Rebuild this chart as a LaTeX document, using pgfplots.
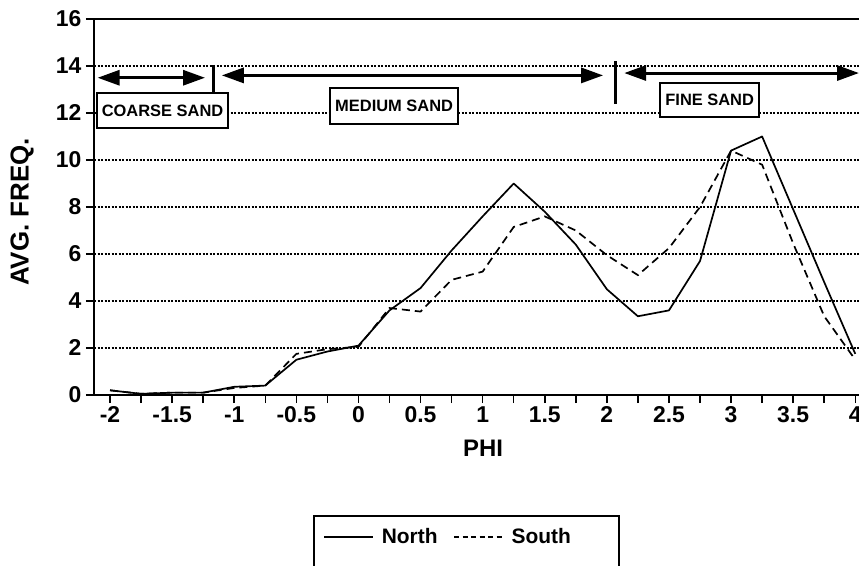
\documentclass[border=0pt]{standalone}
\usepackage{pgfplots}
\pgfplotsset{compat=1.18}
\usepackage{pgfplotstable}
\usepackage{fontspec}
\setmainfont{Liberation Sans}
\usetikzlibrary{arrows.meta}

\pgfplotstableread{
x y
-2 0.2
-1.75 0.05
-1.5 0.1
-1.25 0.1
-1 0.35
-0.75 0.4
-0.5 1.5
-0.25 1.85
0 2.1
0.25 3.6
0.5 4.55
0.75 6.15
1 7.6
1.25 9.0
1.5 7.8
1.75 6.4
2 4.5
2.25 3.35
2.5 3.6
2.75 5.7
3 10.4
3.25 11.0
3.5 7.9
3.75 4.8
4 1.75
}\north

\pgfplotstableread{
x y
-2 0.2
-1.75 0.05
-1.5 0.1
-1.25 0.1
-1 0.3
-0.75 0.4
-0.5 1.75
-0.25 1.95
0 2.05
0.25 3.7
0.5 3.55
0.75 4.9
1 5.25
1.25 7.15
1.5 7.6
1.75 7.0
2 5.95
2.25 5.1
2.5 6.25
2.75 8.0
3 10.4
3.25 9.8
3.5 6.45
3.75 3.35
4 1.5
}\south

\begin{document}
\begin{tikzpicture}
\useasboundingbox (0,0) rectangle (859bp,566bp);
\begin{axis}[
  at={(94bp,171bp)}, anchor=south west,
  scale only axis, width=765bp, height=376bp,
  xmin=-2.129, xmax=4.03, ymin=0, ymax=16,
  axis x line*=bottom, axis y line*=left,
  axis line style={line width=1.8bp, -},
  xtick={-2,-1.5,...,4}, minor xtick={-1.75,-1.25,...,3.75},
  ytick={0,2,...,16},
  tick align=outside, tick pos=left,
  major tick length=8bp, minor tick length=8bp,
  every tick/.style={black, line width=1.5bp},
  ymajorgrids,
  y grid style={black, line width=1.2bp, dash pattern=on 2bp off 1.5bp},
  /pgf/number format/assume math mode=true,
  tick label style={font=\fontsize{23}{26}\selectfont\bfseries},
  yticklabel style={xshift=-1bp},
  xlabel={PHI}, ylabel={AVG. FREQ.},
  xlabel style={font=\fontsize{24}{28}\selectfont\bfseries, at={(axis description cs:0.5085,-0.141)}, anchor=center},
  ylabel style={font=\fontsize{26}{30}\selectfont\bfseries, at={(axis description cs:-0.0941,0.4867)}, anchor=center},
  clip=false,
  legend columns=2,
  legend style={draw=none, fill=none, at={(axis description cs:0.2954,-0.3777)}, anchor=west,
    font=\fontsize{21}{25}\selectfont\bfseries,
    /tikz/every odd column/.append style={column sep=6bp},
    /tikz/every even column/.append style={column sep=14bp}},
  legend image code/.code={\draw[#1] (0bp,0bp) -- (49bp,0bp);},
]
\addplot[black, line width=1.7bp, line join=round] table[x=x,y=y]{\north};
\addlegendentry{North}
\addplot[black, line width=1.7bp, dash pattern=on 8bp off 5bp,
  legend image post style={line width=1.1bp, dash pattern=on 5bp off 3.5bp}] table[x=x,y=y]{\south};
\addlegendentry{South}

\draw[black, line width=1.8bp] (rel axis cs:0,1) -- (rel axis cs:1,1);

% range arrows
\draw[line width=3bp, {Triangle[length=22bp,width=15bp]}-{Triangle[length=22bp,width=15bp]}] (axis cs:-2.10,13.5) -- (axis cs:-1.235,13.5);
\draw[line width=3bp, {Triangle[length=22bp,width=15bp]}-{Triangle[length=22bp,width=15bp]}] (axis cs:-1.10,13.6) -- (axis cs:1.97,13.6);
\draw[line width=3bp, {Triangle[length=22bp,width=15bp]}-{Triangle[length=22bp,width=15bp]}] (axis cs:2.14,13.7) -- (axis cs:4.03,13.7);
\draw[line width=3bp] (axis cs:-1.17,14.05) -- (axis cs:-1.17,12.9);
\draw[line width=3bp] (axis cs:2.07,14.2) -- (axis cs:2.07,12.4);

\node[draw, fill=white, line width=1.5bp, minimum width=131bp, minimum height=35bp, inner sep=0pt,
  font=\fontsize{16.5}{18}\selectfont\bfseries] at (axis cs:-1.577,12.11) {COARSE SAND};
\node[draw, fill=white, line width=1.5bp, minimum width=128bp, minimum height=36bp, inner sep=0pt,
  font=\fontsize{16.5}{18}\selectfont\bfseries] at (axis cs:0.2875,12.30) {MEDIUM SAND};
\node[draw, fill=white, line width=1.5bp, minimum width=99bp, minimum height=34bp, inner sep=0pt,
  font=\fontsize{16.5}{18}\selectfont\bfseries] at (axis cs:2.828,12.55) {FINE SAND};
\end{axis}
\draw[line width=1.5bp] (314bp,50bp) rectangle (619bp,-20bp);
\end{tikzpicture}
\end{document}
